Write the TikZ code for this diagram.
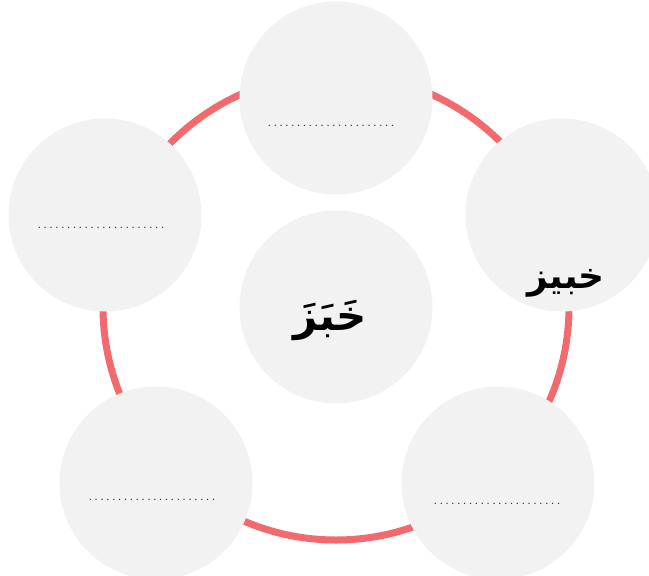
\documentclass[tikz,border=0pt]{standalone}
\usepackage{fontspec}
\TeXXeTstate=1
\newfontfamily\arabicfont[Script=Arabic]{DejaVu Sans}
\usetikzlibrary{positioning}
\definecolor{ringred}{HTML}{F26A6E}
\definecolor{bubblegray}{HTML}{F2F2F2}
\definecolor{dotgray}{HTML}{3A3A3A}
\newcommand{\dotrow}{\hbox to 129pt{\xleaders\hbox to 5.85pt{\hss.\hss}\hfill}}

\begin{document}
\begin{tikzpicture}[
		x=1pt, y=-1pt,
		bubble/.style={
			circle, fill=bubblegray, inner sep=0pt,
			minimum size=193pt
		},
		dots/.style={
			anchor=base, inner sep=0pt, text=dotgray,
			font=\sffamily\fontsize{15}{18}\selectfont
		},
		word/.style={
			anchor=base, inner sep=0pt, text=black
		}
		]
		\useasboundingbox (0,0) rectangle (649,576);
		
		% ring behind the bubbles
		\node[circle, draw=ringred, line width=7pt, minimum size=466pt, inner sep=0pt] (ring) at (336,307) {};
		
		% bubbles
		\node[bubble] (top) at (336,98) {};
		\node[bubble] (middle) at (336,307) {};
		\node[bubble] (right) at (562,215) {};
		\node[bubble] (left) at (105,215) {};
		\node[bubble] (lowleft) at (156,483) {};
		\node[bubble] (lowright) at (498,483) {};
		
		% blanks to fill
		\node[dots] (topdots) at (331,126) {\dotrow};
		\node[dots] (leftdots) at (101,228) {\dotrow};
		\node[dots] (lowleftdots) at (152,500) {\dotrow};
		\node[dots] (lowrightdots) at (497,504) {\dotrow};
		
		% words
		\node[word, font=\arabicfont\bfseries\fontsize{42}{50}\selectfont] (root) at (330,330) {\beginR خَبَزَ\endR};
		\node[word, font=\arabicfont\bfseries\fontsize{36}{42}\selectfont] (baker) at (566,288) {\beginR خبيز\endR};
\end{tikzpicture}
\end{document}
